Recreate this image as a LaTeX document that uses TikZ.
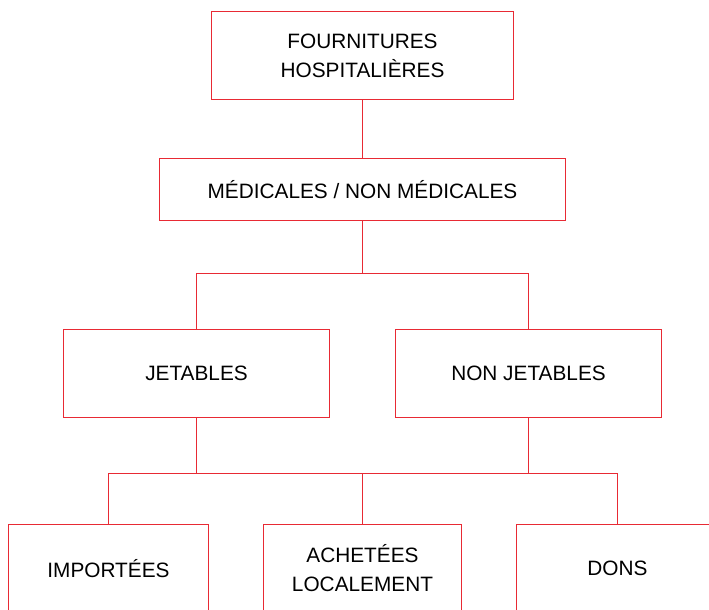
\documentclass[tikz,border=0pt]{standalone}
\usepackage{fontspec}
\setmainfont{Liberation Sans}
\usepackage{tikz}
\definecolor{boxred}{RGB}{232,42,52}
\tikzset{
  cat/.style={draw=boxred, line width=1pt, align=center, inner sep=0pt,
              font=\fontsize{20.8}{29}\selectfont},
  link/.style={draw=boxred, line width=1pt}
}

\begin{document}
\begin{tikzpicture}[x=1pt, y=-1pt]
\useasboundingbox (0,0) rectangle (709,610);
\clip (0,0) rectangle (709,610);

\node[cat, minimum width=302, minimum height=88] (fourn) at (362.5,55.5) {FOURNITURES\\HOSPITALIÈRES};
\node[cat, minimum width=406, minimum height=62] (medic) at (362.5,189.5) {MÉDICALES / NON MÉDICALES};

\node[cat, minimum width=266, minimum height=88] (jet) at (196.5,373.5) {JETABLES};
\node[cat, minimum width=266, minimum height=88] (nonjet) at (528.5,373.5) {NON JETABLES};

\node[cat, minimum width=200, minimum height=88] (imp) at (108.5,568.5) {IMPORTÉES};
\node[cat, minimum width=198, minimum height=88] (ach) at (362.5,568.5) {ACHETÉES\\LOCALEMENT};
\node[cat, minimum width=202, minimum height=88] (dons) at (617.5,568.5) {DONS};

\coordinate (m1) at (362.5,273.5);
\coordinate (j1) at (196.5,473.5);
\coordinate (a1) at (362.5,473.5);
\coordinate (n1) at (528.5,473.5);

\draw[link] (fourn) -- (medic);
\draw[link] (medic) -- (m1) -| (jet);
\draw[link] (m1) -| (nonjet);

\draw[link] (jet) -- (j1) -| (imp);
\draw[link] (nonjet) -- (n1) -| (dons);
\draw[link] (j1) -- (n1);
\draw[link] (a1) -- (ach);
\end{tikzpicture}
\end{document}
